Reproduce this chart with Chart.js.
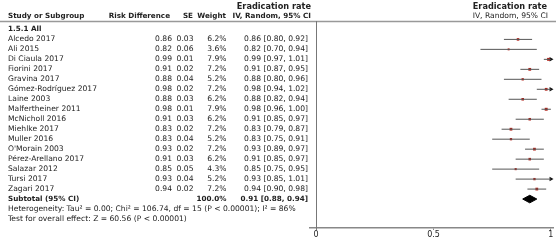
<!DOCTYPE html>
<html>
<head>
<meta charset="utf-8">
<script src="https://cdn.jsdelivr.net/npm/chart.js@4.4.1/dist/chart.umd.min.js"></script>
<style>
  html, body { margin: 0; padding: 0; background: #fff; }
  #wrap { position: relative; width: 560px; height: 249px; }
</style>
</head>
<body>
<div id="wrap"><canvas id="forest" width="560" height="249"></canvas></div>
<script>
// study data
const studies = ["Alcedo 2017", "Ali 2015", "Di Ciaula 2017", "Fiorini 2017", "Gravina 2017",
  "Gómez-Rodríguez 2017", "Laine 2003", "Malfertheiner 2011", "McNicholl 2016", "Miehlke 2017",
  "Muller 2016", "O'Morain 2003", "Pérez-Arellano 2017", "Salazar 2012", "Tursi 2017", "Zagari 2017"];
const riskDiff = [0.86, 0.82, 0.99, 0.91, 0.88, 0.98, 0.88, 0.98, 0.91, 0.83, 0.83, 0.93, 0.91, 0.85, 0.93, 0.94];
const stdErr = [0.03, 0.06, 0.01, 0.02, 0.04, 0.02, 0.03, 0.01, 0.03, 0.02, 0.04, 0.02, 0.03, 0.05, 0.04, 0.02];
const weights = [6.2, 3.6, 7.9, 7.2, 5.2, 7.2, 6.2, 7.9, 6.2, 7.2, 5.2, 7.2, 6.2, 4.3, 5.2, 7.2];
const ciLow = [0.80, 0.70, 0.97, 0.87, 0.80, 0.94, 0.82, 0.96, 0.85, 0.79, 0.75, 0.89, 0.85, 0.75, 0.85, 0.90];
const ciHigh = [0.92, 0.94, 1.01, 0.95, 0.96, 1.02, 0.94, 1.00, 0.97, 0.87, 0.91, 0.97, 0.97, 0.95, 1.01, 0.98];
const subtotal = [0.91, 0.88, 0.94]; // estimate, low, high
const subtotalWeight = "100.0%";
const xTicks = [0, 0.5, 1];

const FONT = '"DejaVu Sans", sans-serif';
const TEXT = "#222";
const SUB_ROW = studies.length + 1;

const fmt = (v) => v.toFixed(2);
const ciText = (e, l, h) => `${fmt(e)} [${fmt(l)}, ${fmt(h)}]`;

// CI whiskers, clipped at 1 (gaps between studies)
const whiskers = [];
studies.forEach((s, i) => {
  whiskers.push({ x: ciLow[i], y: i + 1 }, { x: Math.min(ciHigh[i], 1), y: i + 1 }, { x: ciHigh[i], y: null });
});
const points = studies.map((s, i) => ({ x: riskDiff[i], y: i + 1 }));
const arrows = studies.map((s, i) => ({ x: 1, y: i + 1, over: ciHigh[i] > 1 })).filter((p) => p.over);
const diamond = [
  { x: subtotal[1], y: SUB_ROW },
  { x: subtotal[0], y: SUB_ROW - 0.38 },
  { x: subtotal[2], y: SUB_ROW },
  { x: subtotal[0], y: SUB_ROW + 0.38 },
  { x: subtotal[1], y: SUB_ROW },
];

// table text and frame lines
const tablePlugin = {
  id: "table",
  afterDraw(chart) {
    const ctx = chart.ctx;
    const y = chart.scales.y;
    const x = chart.scales.x;
    const row = (r) => y.getPixelForValue(r);
    ctx.save();

    // frame
    ctx.strokeStyle = "#999";
    ctx.lineWidth = 1.5;
    ctx.beginPath();
    ctx.moveTo(0, 21.5);
    ctx.lineTo(556, 21.5);
    ctx.stroke();
    ctx.strokeStyle = "#777";
    ctx.lineWidth = 1;
    ctx.beginPath();
    ctx.moveTo(Math.round(x.getPixelForValue(0)) + 0.5, 21);
    ctx.lineTo(Math.round(x.getPixelForValue(0)) + 0.5, 230);
    ctx.stroke();

    ctx.fillStyle = TEXT;
    ctx.textBaseline = "middle";
    const put = (t, px, py, align, bold, size) => {
      ctx.font = (bold ? "bold " : "") + (size || (bold ? 7.2 : 7.6)) + "px " + FONT;
      ctx.textAlign = align;
      ctx.fillText(t, px, py);
    };

    // headers
    put("Study or Subgroup", 8, 16, "left", true);
    put("Risk Difference", 170, 16, "right", true);
    put("SE", 193, 16, "right", true);
    put("Weight", 226, 16, "right", true);
    put("Eradication rate", 311, 7, "right", true, 8.2);
    put("IV, Random, 95% CI", 311, 16, "right", true);
    put("Eradication rate", 547, 7, "right", true, 8.2);
    put("IV, Random, 95% CI", 548, 16, "right", false);

    put("1.5.1 All", 8, row(0), "left", true);
    studies.forEach((s, i) => {
      const py = row(i + 1);
      put(s, 8, py, "left", false);
      put(fmt(riskDiff[i]), 172, py, "right", false);
      put(fmt(stdErr[i]), 193.5, py, "right", false);
      put(weights[i].toFixed(1) + "%", 226.5, py, "right", false);
      put(ciText(riskDiff[i], ciLow[i], ciHigh[i]), 308, py, "right", false);
    });
    put("Subtotal (95% CI)", 8, row(SUB_ROW), "left", true);
    put(subtotalWeight, 226.5, row(SUB_ROW), "right", true);
    put(ciText(subtotal[0], subtotal[1], subtotal[2]), 308, row(SUB_ROW), "right", true);
    put("Heterogeneity: Tau² = 0.00; Chi² = 106.74, df = 15 (P < 0.00001); I² = 86%", 8, row(SUB_ROW + 1), "left", false);
    put("Test for overall effect: Z = 60.56 (P < 0.00001)", 8, row(SUB_ROW + 2), "left", false);
    ctx.restore();
  },
};

new Chart(document.getElementById("forest"), {
  type: "scatter",
  data: {
    datasets: [
      {
        data: whiskers,
        showLine: true,
        spanGaps: false,
        borderColor: "#555",
        borderWidth: 1,
        pointRadius: 0,
      },
      {
        data: points,
        pointStyle: "rect",
        pointRadius: (c) => 0.8 + weights[c.dataIndex] * 0.16,
        backgroundColor: "#b3241b",
        borderWidth: 0,
      },
      {
        data: arrows,
        pointStyle: "triangle",
        rotation: 90,
        pointRadius: 2.6,
        backgroundColor: "#111",
        borderWidth: 0,
        clip: false,
      },
      {
        data: diamond,
        showLine: true,
        fill: "shape",
        backgroundColor: "#000",
        borderColor: "#000",
        borderWidth: 1,
        pointRadius: 0,
        tension: 0,
      },
    ],
  },
  options: {
    responsive: false,
    animation: false,
    events: [],
    layout: { padding: { left: 310, right: 7, top: 21, bottom: 0 } },
    plugins: { legend: { display: false }, tooltip: { enabled: false } },
    scales: {
      x: {
        type: "linear",
        min: -0.026,
        max: 1.009,
        afterBuildTicks: (s) => { s.ticks = xTicks.map((v) => ({ value: v })); },
        afterFit: (s) => { s.height = 21; },
        border: { color: "#888", width: 1.5 },
        grid: { drawOnChartArea: false, tickLength: 2, color: "#888" },
        ticks: { padding: 0, color: TEXT, font: { family: FONT, size: 8 }, callback: (v) => String(v) },
      },
      y: {
        display: false,
        reverse: true,
        min: -0.843,
        max: 19.9,
      },
    },
  },
  plugins: [tablePlugin],
});
</script>
</body>
</html>
